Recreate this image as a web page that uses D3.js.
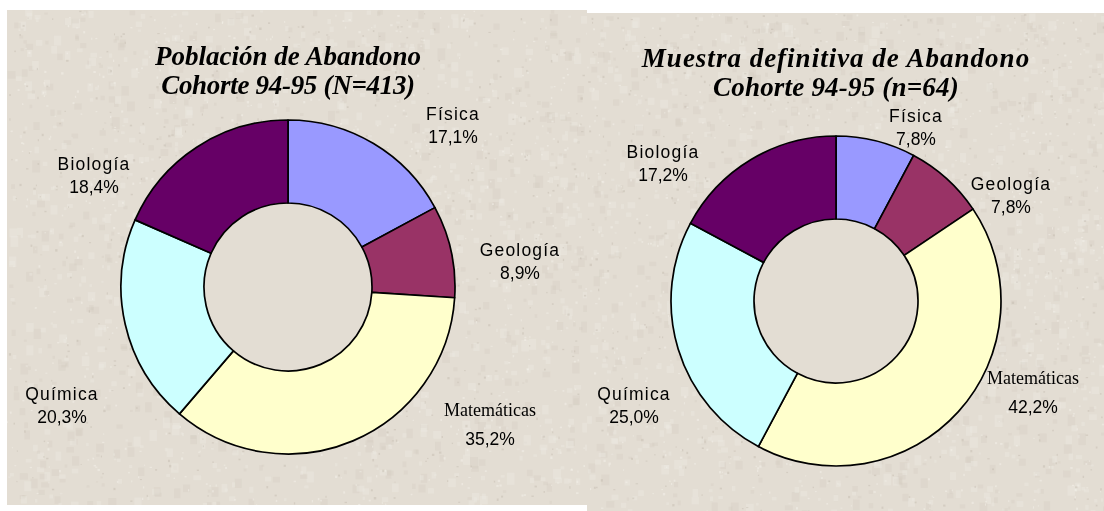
<!DOCTYPE html>
<html>
<head>
<meta charset="utf-8">
<script src="https://cdn.jsdelivr.net/npm/d3@7"></script>
<style>
  body { margin: 0; background: #ffffff; }
  #wrap { position: relative; width: 1104px; height: 511px; }
  #paper, #chart svg { position: absolute; left: 0; top: 0; }
  .name { font-family: "Liberation Sans", Arial, sans-serif; font-size: 17.5px; letter-spacing: 1.2px; fill: #000; }
  .pct { font-family: "Liberation Sans", Arial, sans-serif; font-size: 17.5px; fill: #000; }
  .serif { font-family: "Liberation Serif", "Times New Roman", serif; font-size: 18px; fill: #000; }
  .title { font-family: "Liberation Serif", "Times New Roman", serif; font-size: 27px; font-weight: bold; font-style: italic; fill: #000; }
</style>
</head>
<body>
<div id="wrap">
<canvas id="paper" width="1104" height="511"></canvas>
<div id="chart"></div>
</div>
<script>
// data
var categories = ["Física", "Geología", "Matemáticas", "Química", "Biología"];
var poblacion = [17.1, 8.9, 35.2, 20.3, 18.4];
var muestra = [7.8, 7.8, 42.2, 25.0, 17.2];
var pobTitle = ["Población de Abandono", "Cohorte 94-95 (N=413)"];
var muesTitle = ["Muestra definitiva de Abandono", "Cohorte 94-95 (n=64)"];

var colors = d3.scaleOrdinal()
    .domain(categories)
    .range(["#9999ff", "#993366", "#ffffcc", "#ccffff", "#660066"]);

var paperColor = "#e3ddd3";
var svgWidth = 1104;
var svgHeight = 511;

// paper background: two panels, the right one a bit lower
var panels = [
    {x: 7, y: 10, w: 580, h: 495},
    {x: 587, y: 13, w: 517, h: 498}
];

// small seeded generator, only used for the paper grain
var seed = 12345;
function rnd() {
    seed = (seed * 16807) % 2147483647;
    return (seed - 1) / 2147483646;
}

var ctx = document.getElementById("paper").getContext("2d");
panels.forEach(function(p) {
    ctx.save();
    ctx.beginPath();
    ctx.rect(p.x, p.y, p.w, p.h);
    ctx.clip();
    ctx.fillStyle = paperColor;
    ctx.fillRect(p.x, p.y, p.w, p.h);
    // soft blotches
    for (var k = 0; k < 1500; k++) {
        var x = p.x + rnd() * p.w, y = p.y + rnd() * p.h;
        var s = 2 + rnd() * 6;
        ctx.fillStyle = rnd() < 0.55 ? "rgba(238,234,227,0.4)" : "rgba(208,200,188,0.25)";
        ctx.fillRect(x, y, s, s * (0.6 + rnd()));
    }
    // fine specks
    for (var j = 0; j < 1200; j++) {
        var x2 = p.x + rnd() * p.w, y2 = p.y + rnd() * p.h;
        ctx.fillStyle = rnd() < 0.4 ? "rgba(180,170,156,0.3)" : "rgba(246,243,238,0.45)";
        ctx.fillRect(x2, y2, 1 + rnd() * 1.5, 1 + rnd() * 1.5);
    }
    ctx.restore();
});

var svg = d3.select("#chart")
    .append("svg")
    .attr("width", svgWidth)
    .attr("height", svgHeight);

// label spots (layout only), one per category
var charts = [
    {
        values: poblacion, title: pobTitle,
        cx: 288, cy: 287, r: 167, ri: 84,
        titleX: 288, titleY: [65, 94], titleSpacing: [0, -0.3],
        labels: [[453, 120], [520, 256], [490, 416], [62, 400], [94, 170]]
    },
    {
        values: muestra, title: muesTitle,
        cx: 836, cy: 301, r: 165, ri: 82,
        titleX: 836, titleY: [67, 96], titleSpacing: [1, 0.2],
        labels: [[916, 122], [1011, 190], [1033, 384], [634, 400], [663, 158]]
    }
];

var pie = d3.pie().sort(null).value(function(d) { return d; });

charts.forEach(function(c) {
    var g = svg.append("g");

    var arc = d3.arc().innerRadius(c.ri).outerRadius(c.r);
    var donut = g.append("g")
        .attr("transform", "translate(" + c.cx + "," + c.cy + ")");

    // the hole shows the paper
    donut.append("circle")
        .attr("r", c.ri)
        .attr("fill", paperColor);

    donut.selectAll("path")
        .data(pie(c.values))
        .enter()
        .append("path")
        .attr("d", arc)
        .attr("fill", function(d, i) { return colors(categories[i]); })
        .attr("stroke", "#000")
        .attr("stroke-width", 1.7)
        .attr("stroke-linejoin", "round");

    // title
    g.selectAll(".title")
        .data(c.title)
        .enter()
        .append("text")
        .attr("class", "title")
        .attr("x", c.titleX)
        .attr("y", function(d, i) { return c.titleY[i]; })
        .attr("text-anchor", "middle")
        .style("letter-spacing", function(d, i) { return c.titleSpacing[i] + "px"; })
        .text(function(d) { return d; });

    // data labels
    var lab = g.selectAll(".lab")
        .data(c.values)
        .enter()
        .append("g")
        .attr("class", "lab");

    lab.append("text")
        .attr("class", function(d, i) { return categories[i] === "Matemáticas" ? "serif" : "name"; })
        .attr("x", function(d, i) { return c.labels[i][0]; })
        .attr("y", function(d, i) { return c.labels[i][1]; })
        .attr("text-anchor", "middle")
        .text(function(d, i) { return categories[i]; });

    lab.append("text")
        .attr("class", "pct")
        .attr("x", function(d, i) { return c.labels[i][0]; })
        .attr("y", function(d, i) { return c.labels[i][1] + (categories[i] === "Matemáticas" ? 29 : 23); })
        .attr("text-anchor", "middle")
        .text(function(d) { return d3.format(".1f")(d).replace(".", ",") + "%"; });
});
</script>
</body>
</html>
